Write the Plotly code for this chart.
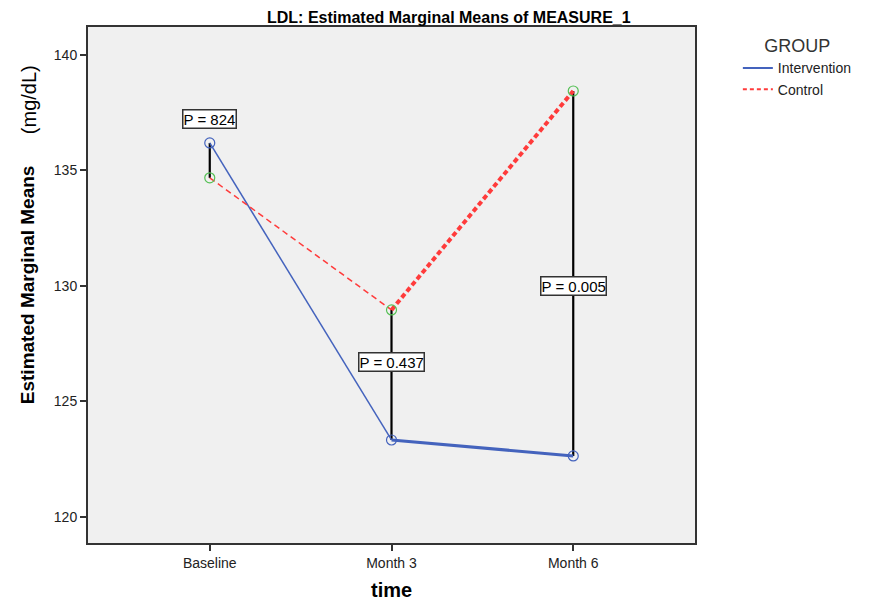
import plotly.graph_objects as go

times = ["Baseline", "Month 3", "Month 6"]
intervention = [136.19, 123.33, 122.64]
control = [134.68, 128.96, 138.44]
p_labels = ["P = 824", "P = 0.437", "P = 0.005"]
p_label_y = [137.23, 126.71, 130.0]
y_ticks = [120, 125, 130, 135, 140]

BLUE = "#4463bd"
RED = "#ff3b3b"
GREEN = "#55c055"
FONT = "Liberation Sans, Arial, sans-serif"

# plot area in page pixels (page body has an 8px margin)
L, R, T, B = 88, 697, 27, 543
PW, PH = R - L, B - T


def px(x):
    return (x - L) / PW


def py(y):
    return (B - y) / PH


fig = go.Figure()

# Black vertical connectors
for i, t in enumerate(times):
    fig.add_trace(go.Scatter(x=[t, t], y=[intervention[i], control[i]], mode="lines",
                             line=dict(color="black", width=2.2), showlegend=False, hoverinfo="skip"))

# Intervention segments
fig.add_trace(go.Scatter(x=times[0:2], y=intervention[0:2], mode="lines",
                         line=dict(color=BLUE, width=1.5), showlegend=False))
fig.add_trace(go.Scatter(x=times[1:3], y=intervention[1:3], mode="lines",
                         line=dict(color=BLUE, width=3), showlegend=False))
# Control segments
fig.add_trace(go.Scatter(x=times[0:2], y=control[0:2], mode="lines",
                         line=dict(color=RED, width=1.5, dash="6px,4px"), showlegend=False))
fig.add_trace(go.Scatter(x=times[1:3], y=control[1:3], mode="lines",
                         line=dict(color=RED, width=4, dash="5px,3px"), showlegend=False))

# Markers
fig.add_trace(go.Scatter(x=times, y=intervention, mode="markers",
                         marker=dict(symbol="circle-open", size=10, color=BLUE, line=dict(width=1.2)),
                         showlegend=False))
fig.add_trace(go.Scatter(x=times, y=control, mode="markers",
                         marker=dict(symbol="circle-open", size=10, color=GREEN, line=dict(width=1.2)),
                         showlegend=False))

# Legend entries
fig.add_trace(go.Scatter(x=[None], y=[None], mode="lines", name="Intervention",
                         line=dict(color=BLUE, width=2)))
fig.add_trace(go.Scatter(x=[None], y=[None], mode="lines", name="Control",
                         line=dict(color=RED, width=2, dash="4px,3px")))

# P-value boxes
for t, lab, yy in zip(times, p_labels, p_label_y):
    fig.add_annotation(x=t, y=yy, text=lab, showarrow=False,
                       font=dict(family=FONT, size=15, color="black"),
                       bgcolor="white", bordercolor="#333333", borderwidth=1.5, borderpad=0)

fig.add_annotation(xref="paper", yref="paper", x=px(450), y=py(18), xanchor="center", yanchor="middle",
                   text="<b>LDL: Estimated Marginal Means of MEASURE_1</b>", showarrow=False,
                   borderpad=0, font=dict(family=FONT, size=16, color="black"))
fig.add_annotation(xref="paper", yref="paper", x=px(27), y=py(285), xanchor="center", yanchor="middle",
                   text="<b>Estimated Marginal Means</b>", textangle=-90, showarrow=False,
                   font=dict(family=FONT, size=19, color="black"))
fig.add_annotation(xref="paper", yref="paper", x=px(29), y=py(100), xanchor="center", yanchor="middle",
                   text="(mg/dL)", textangle=-90, showarrow=False,
                   font=dict(family=FONT, size=20, color="black"))
fig.add_annotation(xref="paper", yref="paper", x=px(392), y=py(590), xanchor="center", yanchor="middle",
                   text="<b>time</b>", showarrow=False,
                   font=dict(family=FONT, size=20, color="black"))

fig.update_layout(
    width=861, height=593,
    margin=dict(l=80, r=172, t=19, b=58),
    paper_bgcolor="white", plot_bgcolor="#f0f0f0",
    font=dict(family=FONT, size=14, color="#222222"),
    legend=dict(x=px(740), y=py(29), xanchor="left", yanchor="top",
                title=dict(text="GROUP", side="top center",
                           font=dict(family=FONT, size=18, color="#333333")),
                font=dict(family=FONT, size=14, color="#222222"), tracegroupgap=0,
                bgcolor="rgba(0,0,0,0)", itemwidth=30),
    xaxis=dict(type="category", range=[-0.67, 2.67], showgrid=False, zeroline=False, automargin=False,
               showline=True, linecolor="#333333", linewidth=2, mirror=True,
               ticks="outside", ticklen=6, tickcolor="#333333", tickwidth=1.5,
               tickfont=dict(family=FONT, size=14, color="#222222")),
    yaxis=dict(range=[118.87, 141.21], tickvals=y_ticks, showgrid=False, zeroline=False, automargin=False,
               showline=True, linecolor="#333333", linewidth=2, mirror=True,
               ticks="outside", ticklen=6, tickcolor="#333333", tickwidth=1.5,
               tickfont=dict(family=FONT, size=14, color="#222222")),
)

fig.write_html("out.html")
